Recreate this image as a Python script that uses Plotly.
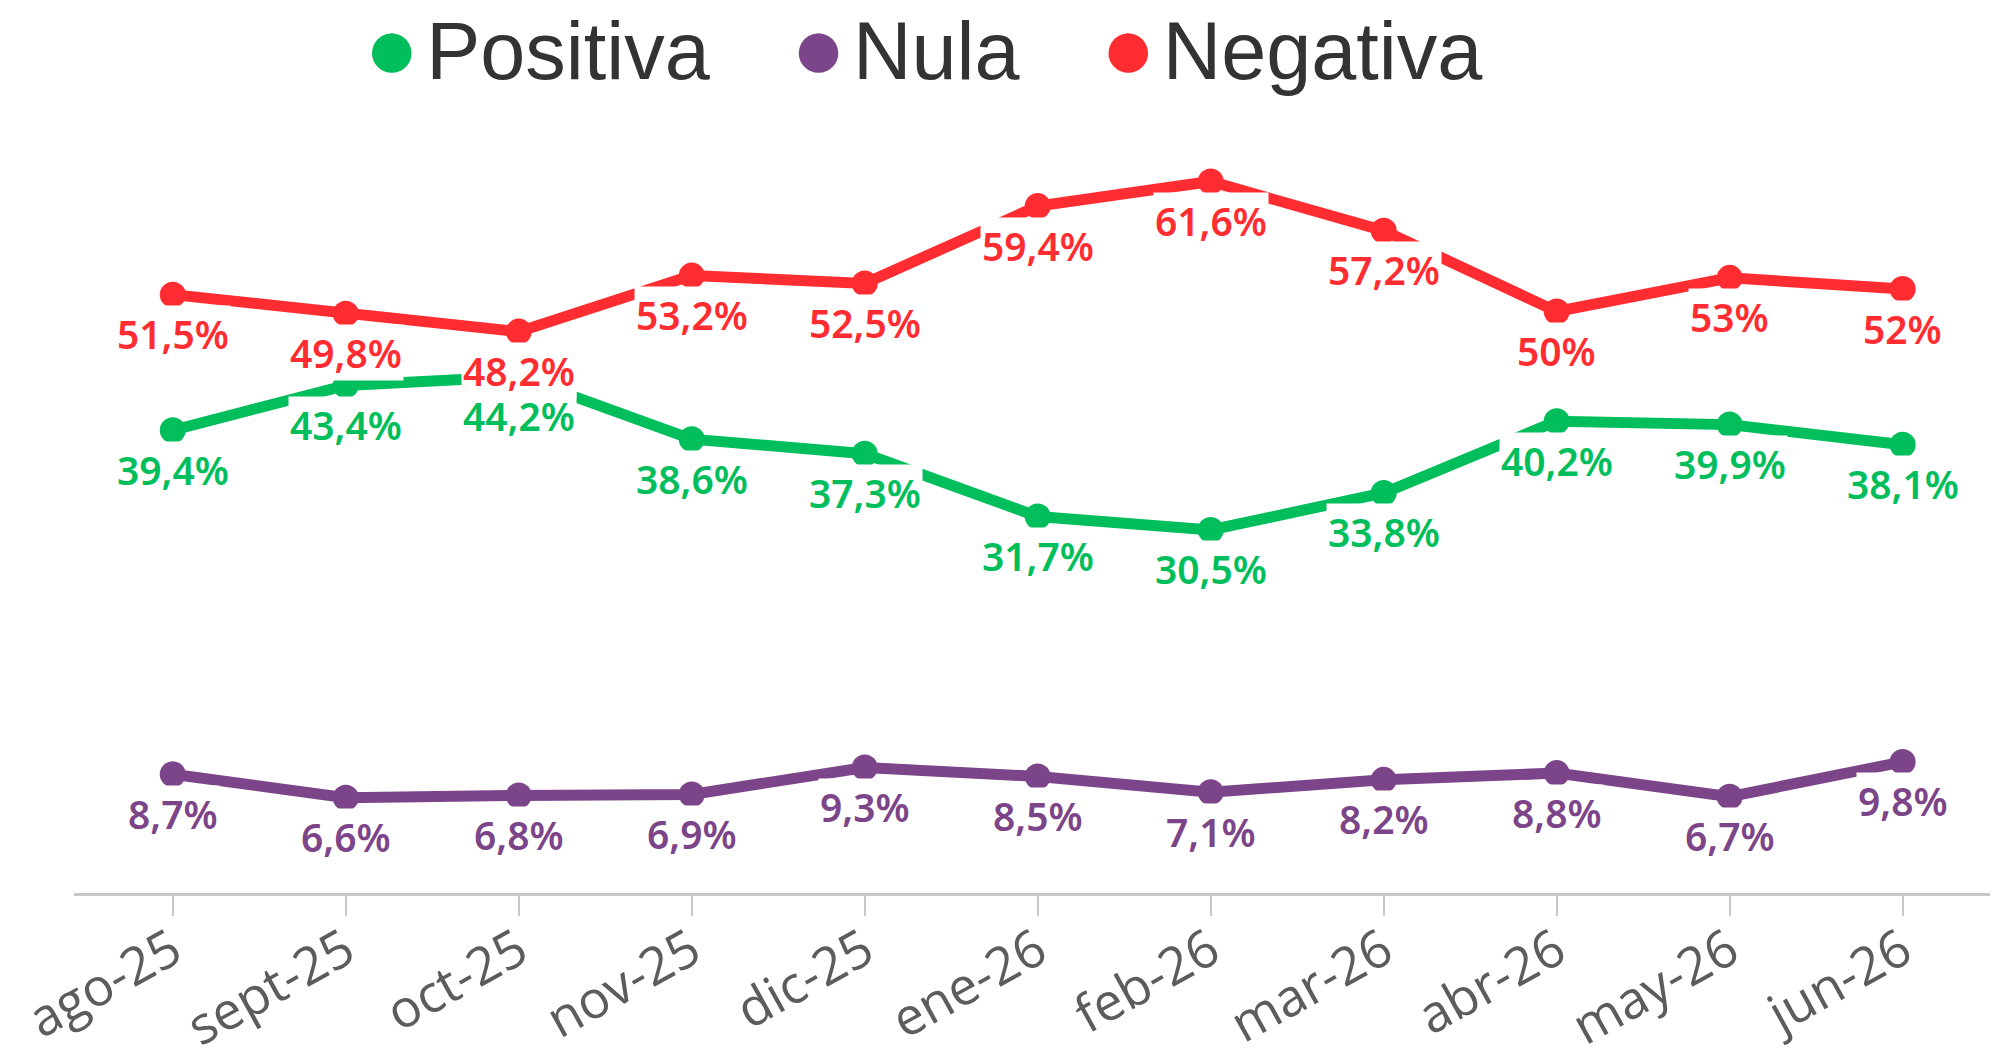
import plotly.graph_objects as go

months = ["ago-25", "sept-25", "oct-25", "nov-25", "dic-25", "ene-26",
          "feb-26", "mar-26", "abr-26", "may-26", "jun-26"]
positiva = [39.4, 43.4, 44.2, 38.6, 37.3, 31.7, 30.5, 33.8, 40.2, 39.9, 38.1]
nula = [8.7, 6.6, 6.8, 6.9, 9.3, 8.5, 7.1, 8.2, 8.8, 6.7, 9.8]
negativa = [51.5, 49.8, 48.2, 53.2, 52.5, 59.4, 61.6, 57.2, 50, 53, 52]

series = [
    ("Nula", nula, "#7d4589"),
    ("Positiva", positiva, "#00be5b"),
    ("Negativa", negativa, "#ff2d31"),
]
legend_order = ["Positiva", "Nula", "Negativa"]


def fmt(v):
    return f"{v:g}".replace(".", ",") + "%"


fig = go.Figure()
for name, vals, color in series:
    fig.add_trace(go.Scatter(
        x=months, y=vals, mode="lines+markers", name=name,
        line=dict(color=color, width=11),
        marker=dict(color=color, size=26),
        showlegend=False,
    ))

annotations = []
for name, vals, color in series:
    for m, v in zip(months, vals):
        annotations.append(dict(
            x=m, y=v, xref="x", yref="y", text=fmt(v), showarrow=False,
            yshift=-39, bgcolor="white", borderpad=1,
            font=dict(family="Noto Sans, Open Sans, sans-serif", size=39,
                      color=color, weight=600),
        ))

# legend row drawn as text (colored dot + series name)
colors = {n: c for n, _, c in series}
gap = '<span style="font-size:97px">\u00a0\u00a0\u00a0</span>'
parts = []
for name in legend_order:
    parts.append(f'<span style="color:{colors[name]};font-size:92px">\u25cf</span>'
                 f'<span style="font-size:24px">\u00a0</span>{name}')
legend_text = gap.join(parts)
annotations.append(dict(
    x=0.1503, y=1.125, xref="paper", yref="paper", xanchor="left", yanchor="middle",
    text=legend_text, showarrow=False, borderpad=1,
    font=dict(family="Liberation Sans, Arial, sans-serif", size=81, color="#333333"),
))

fig.update_layout(
    width=2002, height=1057,
    paper_bgcolor="white", plot_bgcolor="white",
    margin=dict(l=66, r=20, t=132, b=172, autoexpand=False),
    annotations=annotations,
    showlegend=False,
    xaxis=dict(
        type="category", categoryorder="array", categoryarray=months,
        range=[-0.571, 10.505], automargin=False,
        showline=True, linecolor="#c8c8c8", linewidth=3,
        ticks="outside", ticklen=20, tickwidth=2, tickcolor="#c8c8c8",
        tickangle=-29, ticklabelstandoff=-16, showgrid=False, zeroline=False,
        tickfont=dict(family="Open Sans, Liberation Sans, sans-serif", size=52, color="#5c5c5c"),
    ),
    yaxis=dict(
        range=[-1.9, 65.3], showgrid=False, zeroline=False, automargin=False,
        showticklabels=False, showline=False, ticks="",
    ),
)

fig.write_html("out.html")
